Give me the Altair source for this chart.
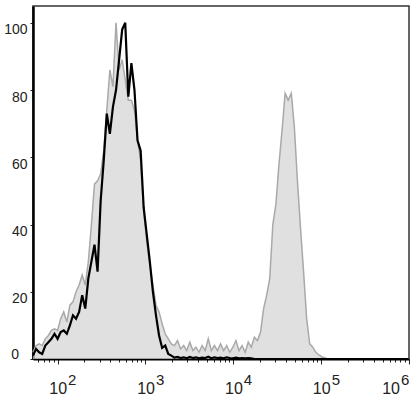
import altair as alt
import pandas as pd

# channel positions (log10 of fluorescence) of the histogram bins
EXPONENTS = [
    1.72, 1.755, 1.79, 1.825, 1.86, 1.895, 1.93, 1.965, 2.0, 2.035,
    2.07, 2.105, 2.14, 2.175, 2.21, 2.245, 2.28, 2.315, 2.35, 2.385,
    2.42, 2.455, 2.49, 2.525, 2.56, 2.595, 2.63, 2.665, 2.7, 2.735,
    2.77, 2.805, 2.84, 2.875, 2.91, 2.945, 2.98, 3.015, 3.05, 3.085,
    3.12, 3.155, 3.19, 3.225, 3.26, 3.295, 3.33, 3.365, 3.4, 3.435,
    3.47, 3.505, 3.54, 3.575, 3.61, 3.645, 3.68, 3.715, 3.75, 3.785,
    3.82, 3.855, 3.89, 3.925, 3.96, 3.995, 4.03, 4.065, 4.1, 4.135,
    4.17, 4.205, 4.24, 4.275, 4.31, 4.345, 4.38, 4.415, 4.45, 4.485,
    4.52, 4.555, 4.59, 4.625, 4.66, 4.695, 4.73, 4.765, 4.8, 4.835,
    4.87, 4.905, 4.94, 4.975, 5.01, 5.045, 5.08, 5.115, 5.15, 5.185,
    5.22, 5.255, 5.29, 5.325, 5.36, 5.395, 5.43, 5.465, 5.5, 5.535,
    5.57, 5.605, 5.64, 5.675, 5.71, 5.745, 5.78, 5.815, 5.85, 5.885,
    5.92, 5.955, 5.99,
]

# grey filled histogram (% of max)
STAINED = [
    2, 4, 4.5, 4, 6, 7, 8.5, 9, 8.5, 12,
    14, 11, 16, 17, 20, 22, 25, 22, 29, 40,
    52, 53, 55, 62, 74, 86, 81, 100, 86, 89,
    83, 77, 77, 74, 65, 59, 44, 35, 28, 22,
    16, 14, 10.5, 7.5, 6, 4.5, 4, 5.5, 3, 4,
    2.5, 5, 2.5, 3.5, 2, 4, 2.5, 6, 2.5, 4,
    2.5, 4.5, 2.5, 4, 2, 3.5, 5.5, 2.5, 4, 2,
    5, 3.5, 6.5, 5.5, 8, 15, 19, 24, 40, 46,
    58, 68, 79, 77, 79, 69, 53, 39, 26, 12,
    4.5, 3.5, 2, 1.2, 0.6, 0.3, 0, 0, 0, 0,
    0, 0, 0, 0, 0, 0, 0, 0, 0, 0,
    0, 0, 0, 0, 0, 0, 0, 0, 0, 0,
    0, 0, 0,
]

# black outline histogram (% of max)
CONTROL = [
    1, 3, 2, 1.5, 4, 5, 6, 7.5, 6, 8,
    8.5, 7.5, 10, 13, 12, 14, 19, 15, 24, 29,
    34, 26, 47, 59, 73, 67, 75, 80, 89, 98,
    100, 78, 88, 80, 65, 62, 45, 37, 29, 20,
    13, 7, 3.3, 4, 1.5, 1, 0.4, 0.6, 0.3, 0.5,
    0.2, 0.6, 0.3, 0.5, 0.2, 0.4, 0.3, 0.7, 0.2, 0.5,
    0.3, 0.4, 0.2, 0.5, 0.3, 0.2, 0.4, 0.2, 0.3, 0.2,
    0.3, 0.2, 0, 0, 0, 0, 0, 0, 0, 0,
    0, 0, 0, 0, 0, 0, 0, 0, 0, 0,
    0, 0, 0, 0, 0, 0, 0, 0, 0, 0,
    0, 0, 0, 0, 0, 0, 0, 0, 0, 0,
    0, 0, 0, 0, 0, 0, 0, 0, 0, 0,
    0, 0, 0,
]

TICK_EXP = [2, 3, 4, 5, 6]
Y_TICKS = [0, 20, 40, 60, 80, 100]

FONT = "Liberation Sans"

df = pd.DataFrame({
    "fl": [10 ** e for e in EXPONENTS],
    "stained": STAINED,
    "control": CONTROL,
})
labels = pd.DataFrame({
    "pos": [10 ** e for e in TICK_EXP],
    "e": TICK_EXP,
    "base": ["10"] * len(TICK_EXP),
    "exp": [str(e) for e in TICK_EXP],
})
zero_lbl = pd.DataFrame({"v": [0], "t": ["0"]})

xmin = 10 ** 1.72
x_scale = alt.Scale(type="log", domain=[xmin, 1000000], nice=False)
y_scale = alt.Scale(domain=[0, 105], nice=False)

minor = []
for n in range(1, 6):
    for k in range(1, 10):
        v = k * 10 ** n
        if v >= xmin:
            minor.append(v)
minor.append(1000000)

x_axis = alt.Axis(
    values=minor, labels=False, title=None, grid=False,
    tickSize={"condition": {"test": "indexof([100,1000,10000,100000,1000000], datum.value) >= 0", "value": 5}, "value": 3},
    tickColor="#222", tickWidth=1, domainColor="black", domainWidth=2,
)
y_axis = alt.Axis(
    values=Y_TICKS, title=None, grid=False, tickSize=3, tickColor="#222",
    labelPadding=3, labelFontSize=14, labelFont=FONT, labelColor="#222",
    labelBaseline="top", labelExpr="datum.value == 0 ? '' : datum.label",
    domainColor="black", domainWidth=2.5,
)

area = alt.Chart(df).mark_area(
    color="#d3d3d3", interpolate="linear",
    line={"color": "#a9a9a9", "strokeWidth": 1.5},
).encode(
    x=alt.X("fl:Q", scale=x_scale, axis=x_axis),
    y=alt.Y("stained:Q", scale=y_scale, axis=y_axis),
)

line = alt.Chart(df).mark_line(color="black", strokeWidth=2.2, interpolate="linear").encode(
    x=alt.X("fl:Q", scale=x_scale),
    y=alt.Y("control:Q", scale=y_scale),
)

zero = alt.Chart(zero_lbl).mark_text(
    align="right", baseline="alphabetic", fontSize=14, font=FONT, color="#222"
).encode(x=alt.value(-14), y=alt.Y("v:Q", scale=y_scale), text="t:N")

base_lbl = alt.Chart(labels).transform_filter("datum.e < 6").mark_text(
    align="right", dx=9.5, baseline="alphabetic", fontSize=16, font=FONT, color="#222"
).encode(x=alt.X("pos:Q", scale=x_scale), y=alt.value(388), text="base:N")
exp_lbl = alt.Chart(labels).transform_filter("datum.e < 6").mark_text(
    align="left", dx=10.5, baseline="alphabetic", fontSize=15, font=FONT, color="#222"
).encode(x=alt.X("pos:Q", scale=x_scale), y=alt.value(379), text="exp:N")
base_last = alt.Chart(labels).transform_filter("datum.e == 6").mark_text(
    align="right", dx=-9, baseline="alphabetic", fontSize=16, font=FONT, color="#222"
).encode(x=alt.X("pos:Q", scale=x_scale), y=alt.value(388), text="base:N")
exp_last = alt.Chart(labels).transform_filter("datum.e == 6").mark_text(
    align="left", dx=-8, baseline="alphabetic", fontSize=15, font=FONT, color="#222"
).encode(x=alt.X("pos:Q", scale=x_scale), y=alt.value(379), text="exp:N")

chart = alt.layer(area, line, zero, base_lbl, exp_lbl, base_last, exp_last).properties(
    width=376, height=353,
    autosize=alt.AutoSizeParams(type="none"),
    padding={"left": 33, "top": 6, "right": 9, "bottom": 39},
    background="white",
).configure_view(stroke="#333", strokeWidth=1.5)

chart.save("out.html", embed_options={"renderer": "svg", "actions": False})
